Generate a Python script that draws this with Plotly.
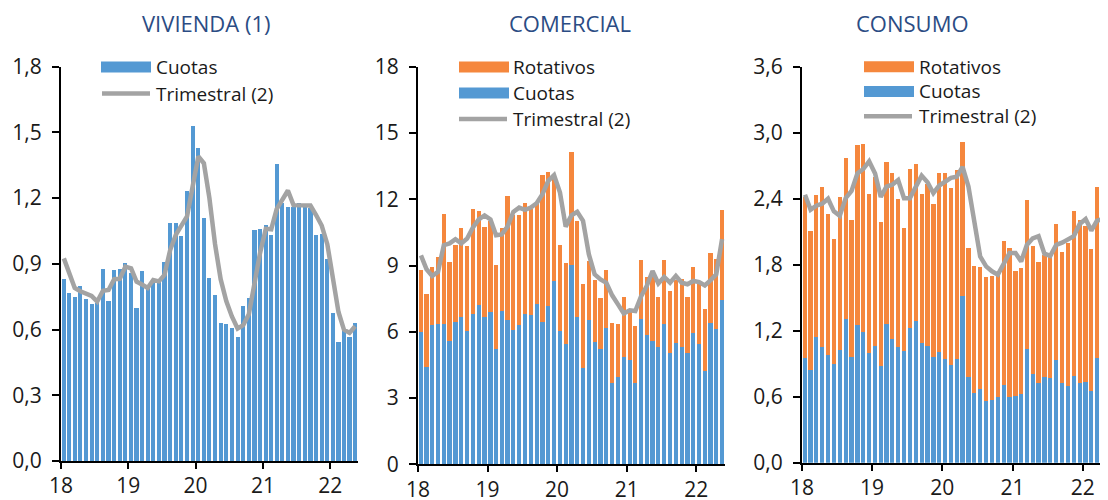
import pandas as pd
import plotly.graph_objects as go

# ---------------- data ----------------
months = pd.date_range("2018-01-01", periods=53, freq="MS")
year_ticks = pd.date_range("2018-01-01", periods=5, freq="YS")
year_labels = ["18", "19", "20", "21", "22"]
panel_titles = ["VIVIENDA (1)", "COMERCIAL", "CONSUMO"]

viv_cuotas = [0.831, 0.767, 0.749, 0.80, 0.741, 0.717, 0.723, 0.878, 0.73, 0.872, 0.878, 0.903,
              0.857, 0.70, 0.868, 0.80, 0.82, 0.82, 0.909, 1.088, 1.088, 1.027, 1.233, 1.531,
              1.428, 1.11, 0.834, 0.76, 0.632, 0.626, 0.607, 0.568, 0.708, 0.746, 1.055, 1.058,
              1.076, 1.032, 1.355, 1.177, 1.161, 1.158, 1.18, 1.158, 1.154, 1.03, 1.037, 0.922,
              0.674, 0.543, 0.60, 0.568, 0.632]
viv_trim = [0.925, 0.857, 0.79, 0.775, 0.767, 0.754, 0.728, 0.777, 0.781, 0.83, 0.832, 0.887,
            0.879, 0.819, 0.806, 0.79, 0.826, 0.82, 0.849, 0.963, 1.032, 1.07, 1.116, 1.253,
            1.39, 1.359, 1.2, 0.99, 0.83, 0.73, 0.66, 0.605, 0.62, 0.67, 0.82, 0.95,
            1.06, 1.058, 1.15, 1.19, 1.235, 1.168, 1.167, 1.167, 1.166, 1.123, 1.075, 0.99,
            0.83, 0.68, 0.60, 0.585, 0.615]

com_cuotas = [5.99, 4.42, 6.31, 6.37, 6.34, 5.58, 6.46, 6.67, 6.03, 6.82, 7.21, 6.67,
              6.89, 5.23, 6.94, 6.55, 6.08, 6.31, 6.79, 6.76, 7.24, 6.44, 7.17, 8.30,
              6.03, 5.44, 9.01, 6.67, 4.37, 6.52, 5.53, 5.20, 6.18, 3.68, 3.96, 4.87,
              4.72, 3.67, 6.56, 5.87, 5.58, 5.31, 6.34, 5.05, 5.47, 5.32, 5.05, 5.93,
              5.46, 4.24, 6.41, 6.14, 7.42]
com_rotativos = [2.81, 3.27, 2.64, 3.03, 5.00, 3.58, 3.49, 4.05, 3.86, 4.74, 4.28, 4.06,
                 4.11, 3.79, 3.78, 5.60, 5.19, 4.96, 5.04, 4.82, 4.64, 6.65, 6.08, 4.80,
                 3.89, 3.69, 5.15, 4.33, 3.81, 2.67, 2.81, 2.31, 2.62, 2.73, 2.41, 2.72,
                 2.19, 2.59, 2.68, 2.61, 2.92, 2.28, 2.93, 2.80, 2.88, 3.08, 2.54, 3.00,
                 2.74, 2.78, 3.17, 3.14, 4.11]
com_trim = [9.46, 8.83, 8.53, 8.71, 9.92, 10.0, 10.19, 10.0, 10.22, 10.72, 11.09, 11.27,
            11.09, 10.37, 10.41, 10.76, 11.43, 11.62, 11.52, 11.62, 11.82, 12.23, 12.83, 13.09,
            12.30, 10.76, 11.27, 11.43, 11.02, 9.51, 8.60, 8.37, 8.22, 7.65, 7.24, 6.83,
            6.97, 6.94, 7.59, 8.07, 8.75, 8.19, 8.48, 8.22, 8.53, 8.22, 8.15, 8.30,
            8.25, 8.10, 8.33, 8.60, 10.19]

con_cuotas = [0.948, 0.845, 1.14, 1.05, 0.98, 0.90, 1.02, 1.31, 0.96, 1.255, 1.19, 1.0,
              1.06, 0.88, 1.26, 1.12, 1.05, 1.015, 1.22, 1.29, 1.09, 1.06, 0.96, 1.01,
              0.94, 0.89, 0.94, 1.52, 0.78, 0.633, 0.67, 0.558, 0.567, 0.60, 0.71, 0.60,
              0.61, 0.62, 1.03, 0.81, 0.725, 0.776, 0.77, 0.93, 0.72, 0.70, 0.79, 0.725,
              0.73, 0.65, 0.95, 0.73, 0.81]
con_rotativos = [1.47, 1.265, 1.29, 1.46, 1.28, 1.13, 1.40, 1.46, 1.25, 1.63, 1.71, 1.445,
                 1.54, 1.31, 1.47, 1.51, 1.35, 1.115, 1.45, 1.425, 1.35, 1.47, 1.395, 1.62,
                 1.69, 1.61, 1.72, 1.395, 1.175, 1.152, 1.106, 1.127, 1.133, 1.12, 1.31, 1.35,
                 1.13, 1.15, 1.355, 1.16, 1.10, 1.114, 1.12, 1.24, 1.20, 1.30, 1.495, 1.485,
                 1.42, 1.295, 1.56, 1.425, 1.565]
con_trim = [2.436, 2.30, 2.336, 2.355, 2.40, 2.285, 2.245, 2.405, 2.47, 2.63, 2.67, 2.74,
            2.63, 2.415, 2.51, 2.527, 2.57, 2.405, 2.405, 2.51, 2.61, 2.55, 2.45, 2.52,
            2.56, 2.59, 2.60, 2.69, 2.51, 2.21, 1.876, 1.785, 1.74, 1.71, 1.815, 1.906,
            1.906, 1.83, 1.98, 2.04, 2.06, 1.90, 1.88, 1.98, 2.0, 2.03, 2.06, 2.17,
            2.215, 2.11, 2.20, 2.215, 2.36]

# ---------------- style ----------------
BLUE = "#5499D3"
ORANGE = "#F5873D"
GRAY = "#A3A3A3"
TITLE_C = "#2B4C84"
TXT = "#1a1a1a"
FONT = "Open Sans"
OFF = 8                      # page body margin added by the browser
W, H = 1108 - OFF, 500 - OFF  # figure size so that it fills the 1108x500 window


def px(x):
    """window pixel x -> paper fraction"""
    return (x - OFF) / W


def py(y):
    """window pixel y -> paper fraction"""
    return 1 - (y - OFF) / H


fig = go.Figure()


def add_bar(x, y, color, name, ax):
    fig.add_trace(go.Bar(x=x, y=y, name=name, marker=dict(color=color, line=dict(width=0)),
                         xperiod="M1", xperiodalignment="middle",
                         xaxis="x" + ax, yaxis="y" + ax, showlegend=False))


def add_line(x, y, name, ax):
    fig.add_trace(go.Scatter(x=x, y=y, name=name, mode="lines",
                             line=dict(color=GRAY, width=4.5, shape="linear"),
                             xperiod="M1", xperiodalignment="middle",
                             xaxis="x" + ax, yaxis="y" + ax, showlegend=False))


add_bar(months, viv_cuotas, BLUE, "Cuotas", "")
add_line(months, viv_trim, "Trimestral (2)", "")
add_bar(months, com_cuotas, BLUE, "Cuotas", "2")
add_bar(months, com_rotativos, ORANGE, "Rotativos", "2")
add_line(months, com_trim, "Trimestral (2)", "2")
add_bar(months, con_cuotas, BLUE, "Cuotas", "3")
add_bar(months, con_rotativos, ORANGE, "Rotativos", "3")
add_line(months, con_trim, "Trimestral (2)", "3")

# panel geometry (window pixels)
panels = [
    dict(x0=61, x1=358, y0=461, y1=66.7, rng=[0, 1.8], dtick=0.3, fmt=".1f",
         xr=["2018-01-01", "2022-06-01"]),
    dict(x0=418, x1=725, y0=464.3, y1=66.7, rng=[0, 18], dtick=3, fmt="d",
         xr=["2018-01-01", "2022-06-01"]),
    dict(x0=802, x1=1108, y0=462.7, y1=66.7, rng=[0, 3.6], dtick=0.6, fmt=".1f",
         xr=["2018-01-01", "2022-05-13"]),
]

axis_common = dict(showline=True, linecolor="black", linewidth=2, ticks="outside",
                   tickcolor="black", tickwidth=1.5, ticklen=6, showgrid=False, zeroline=False,
                   automargin=False,
                   tickfont=dict(family=FONT, size=21, color=TXT))

layout = {}
for i, p in enumerate(panels):
    sfx = "" if i == 0 else str(i + 1)
    layout["xaxis" + sfx] = dict(axis_common, domain=[px(p["x0"]), px(p["x1"])],
                                 anchor="y" + sfx, type="date", range=p["xr"],
                                 tickvals=list(year_ticks), ticktext=year_labels,
                                 ticklabelstandoff=-1)
    layout["yaxis" + sfx] = dict(axis_common, domain=[py(p["y0"]), py(p["y1"])],
                                 anchor="x" + sfx, range=p["rng"], dtick=p["dtick"],
                                 tick0=0, tickformat=p["fmt"], ticklabelstandoff=6,
                                 ticklen=7)

fig.update_layout(**layout)
fig.update_layout(width=W, height=H,
                  margin=dict(l=0, r=0, t=0, b=0, pad=0, autoexpand=False),
                  paper_bgcolor="white", plot_bgcolor="white", barmode="stack",
                  bargap=0.24, separators=",.", showlegend=False,
                  font=dict(family=FONT, color=TXT))

# titles
for title, cx in zip(panel_titles, [206, 569.7, 912.5]):
    fig.add_annotation(text=title, x=px(cx), y=py(23), xref="paper", yref="paper",
                       xanchor="center", yanchor="middle", showarrow=False,
                       font=dict(family=FONT, size=22, color=TITLE_C))

# hand-drawn legends
def legend_rect(x0, yc, color):
    fig.add_shape(type="rect", xref="paper", yref="paper", x0=px(x0), x1=px(x0 + 50),
                  y0=py(yc + 5.5), y1=py(yc - 5.5), fillcolor=color, line=dict(width=0))


def legend_line(x0, yc):
    fig.add_shape(type="line", xref="paper", yref="paper", x0=px(x0 + 2), x1=px(x0 + 50),
                  y0=py(yc), y1=py(yc), line=dict(color=GRAY, width=4.5))


def legend_text(x, yc, text):
    fig.add_annotation(text=text, x=px(x), y=py(yc), xref="paper", yref="paper",
                       xanchor="left", yanchor="middle", showarrow=False,
                       font=dict(family=FONT, size=19, color=TXT))


# panel 1
legend_rect(101, 67, BLUE)
legend_text(154, 67, "Cuotas")
legend_line(100, 93.5)
legend_text(154, 93.5, "Trimestral (2)")
# panel 2
legend_rect(459, 67, ORANGE)
legend_text(511, 67, "Rotativos")
legend_rect(459, 93, BLUE)
legend_text(511, 93, "Cuotas")
legend_line(457, 119)
legend_text(511, 119, "Trimestral (2)")
# panel 3
legend_rect(864, 66.7, ORANGE)
legend_text(917, 66.7, "Rotativos")
legend_rect(864, 91.5, BLUE)
legend_text(917, 91.5, "Cuotas")
legend_line(862, 116.3)
legend_text(917, 116.3, "Trimestral (2)")

fig.write_html("out.html")
